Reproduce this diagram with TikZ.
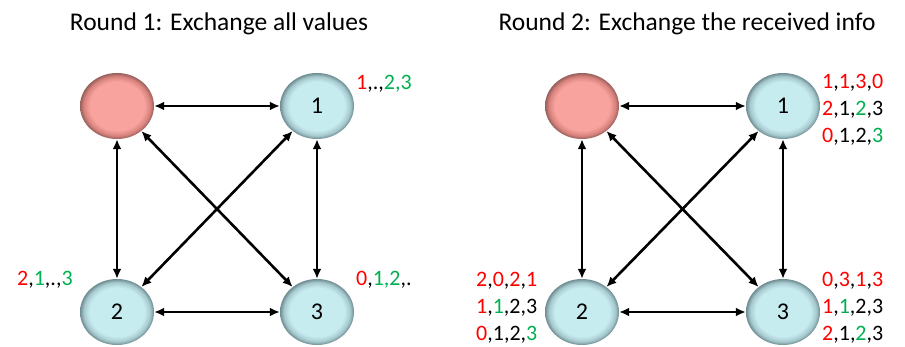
\documentclass[tikz,border=0pt]{standalone}
\usepackage{fontspec}
\setmainfont{Carlito}
\usetikzlibrary{shapes.geometric, arrows.meta, positioning}

\definecolor{cyanin}{RGB}{199,236,240}
\definecolor{cyanrim}{RGB}{165,200,205}
\definecolor{cyanedge}{RGB}{110,140,145}
\definecolor{redin}{RGB}{248,163,157}
\definecolor{redrim}{RGB}{215,130,125}
\definecolor{rededge}{RGB}{150,95,92}
\definecolor{valred}{RGB}{255,0,0}
\definecolor{valgreen}{RGB}{0,176,80}

\pgfdeclareradialshading{bubblecyan}{\pgfpoint{0bp}{0bp}}{color(0bp)=(cyanin); color(18.5bp)=(cyanin); color(22.5bp)=(cyanrim); color(25bp)=(cyanedge); color(50bp)=(cyanedge)}
\pgfdeclareradialshading{bubblered}{\pgfpoint{0bp}{0bp}}{color(0bp)=(redin); color(18.5bp)=(redin); color(22.5bp)=(redrim); color(25bp)=(rededge); color(50bp)=(rededge)}

\newcommand{\rv}[1]{\textcolor{valred}{#1}}
\newcommand{\gv}[1]{\textcolor{valgreen}{#1}}

\begin{document}
\begin{tikzpicture}[
            x=1pt, y=-1pt,
            proc/.style={ellipse, minimum width=74pt, minimum height=66pt, inner sep=0pt, shading=bubblecyan, font=\fontsize{24}{28}\selectfont},
            faulty/.style={proc, shading=bubblered},
            title/.style={anchor=base, font=\fontsize{25.5}{30}\selectfont},
            info/.style={anchor=base west, align=left, inner sep=0pt, font=\fontsize{22}{27}\selectfont},
            arrow/.style={line width=2.6pt, {Latex[length=10pt,width=9pt]}-{Latex[length=10pt,width=9pt]}}
          ]
  \useasboundingbox (0,0) rectangle (905,347);

  % Round 1
  \node (t1) [title] at (219,31) {Round 1: Exchange all values};
  \node (a0) [faulty] at (117,106) {};
  \node (a1) [proc] at (317,106) {1};
  \node (a2) [proc] at (117,312) {2};
  \node (a3) [proc] at (317,312) {3};

  \node (v1) [info] at (356,90) {\rv{1},.,\gv{2,3}};
  \node (v2) [info] at (17,286) {\rv{2},\gv{1},.,\gv{3}};
  \node (v3) [info] at (356,286) {\rv{0},\gv{1,2},.};

  \draw [arrow] (a0) -- (a1);
  \draw [arrow] (a0) -- (a2);
  \draw [arrow] (a0) -- (a3);
  \draw [arrow] (a1) -- (a2);
  \draw [arrow] (a1) -- (a3);
  \draw [arrow] (a2) -- (a3);

  % Round 2
  \node (t2) [title] at (687,31) {Round 2: Exchange the received info};
  \node (b0) [faulty] at (582,106) {};
  \node (b1) [proc] at (783,106) {1};
  \node (b2) [proc] at (582,312) {2};
  \node (b3) [proc] at (783,312) {3};

  % base of a multi-line node = last line
  \node (w1) [info] at (822,143) {\rv{1},\rv{1},\rv{3},\rv{0}\\\rv{2},1,\gv{2},3\\\rv{0},1,2,\gv{3}};
  \node (w2) [info] at (476,341) {\rv{2},\rv{0},\rv{2},\rv{1}\\\rv{1},\gv{1},2,3\\\rv{0},1,2,\gv{3}};
  \node (w3) [info] at (822,341) {\rv{0},\rv{3},\rv{1},\rv{3}\\\rv{1},\gv{1},2,3\\\rv{2},1,\gv{2},3};

  \draw [arrow] (b0) -- (b1);
  \draw [arrow] (b0) -- (b2);
  \draw [arrow] (b0) -- (b3);
  \draw [arrow] (b1) -- (b2);
  \draw [arrow] (b1) -- (b3);
  \draw [arrow] (b2) -- (b3);

\end{tikzpicture}
\end{document}
